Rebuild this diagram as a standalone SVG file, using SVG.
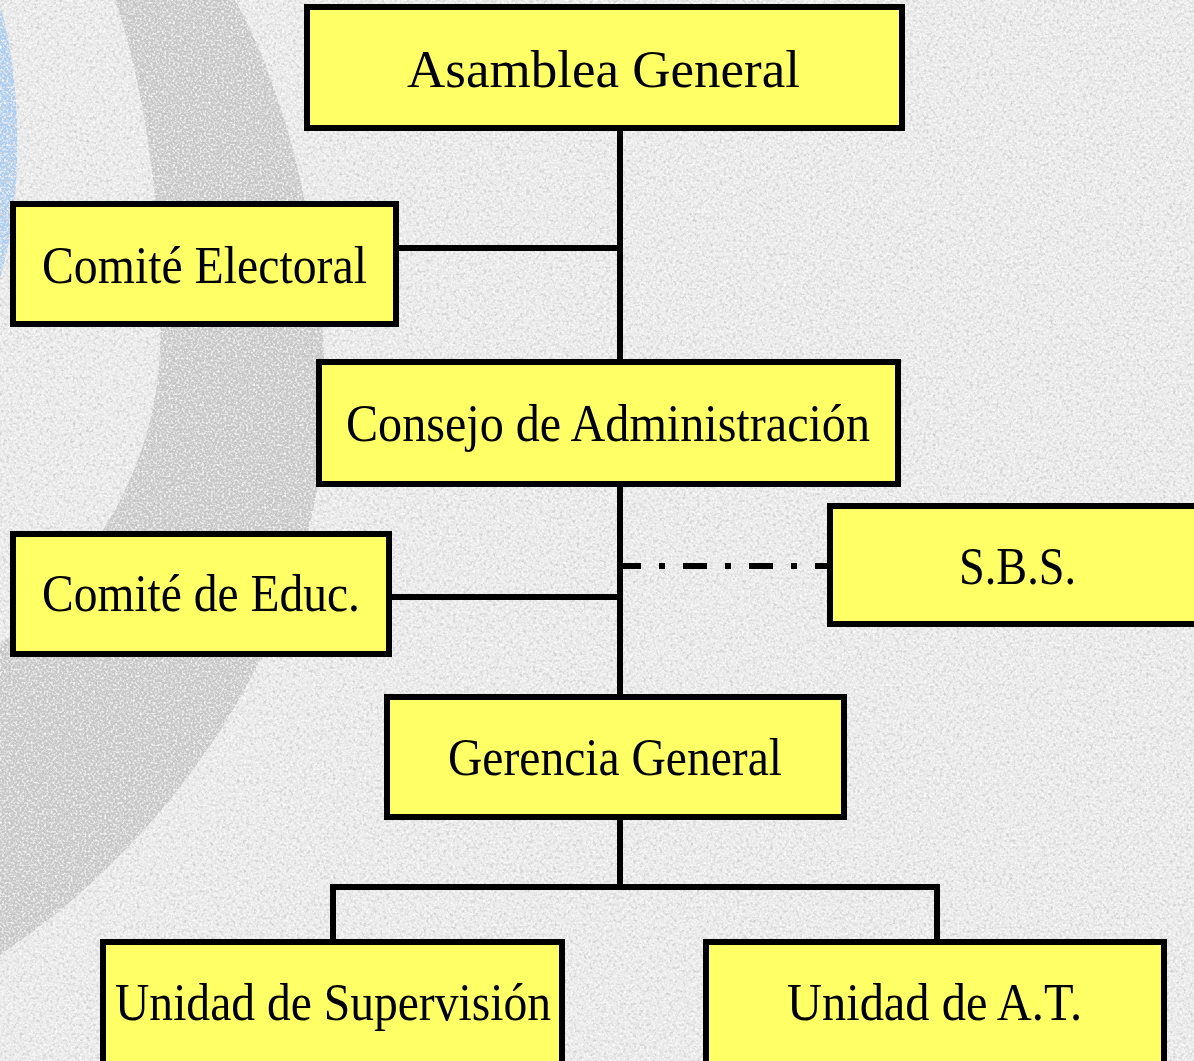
<svg xmlns="http://www.w3.org/2000/svg" width="1194" height="1061" viewBox="0 0 1194 1061">
<style>
.box{fill:#ffff66;stroke:#000;stroke-width:6}
.lbl{font-family:"Liberation Serif","Times New Roman",serif;font-size:53px;fill:#000}
.con{stroke:#000;stroke-width:6;fill:none}
</style>
<defs>
<filter id="grain" filterUnits="userSpaceOnUse" x="0" y="0" width="1194" height="1061">
<feTurbulence type="fractalNoise" baseFrequency="0.3" numOctaves="3" seed="7" result="n"/>
<feColorMatrix in="n" type="matrix" values="0 0 0 0 0.6  0 0 0 0 0.6  0 0 0 0 0.6  2.4 0 0 0 -1.05" result="dk"/>
<feTurbulence type="fractalNoise" baseFrequency="0.45" numOctaves="2" seed="21" result="n2"/>
<feColorMatrix in="n2" type="matrix" values="0 0 0 0 1  0 0 0 0 1  0 0 0 0 1  2.2 0 0 0 -0.95" result="lt"/>
<feComposite in="dk" in2="SourceGraphic" operator="in" result="dk2"/>
<feComposite in="lt" in2="SourceGraphic" operator="in" result="lt2"/>
<feMerge><feMergeNode in="SourceGraphic"/><feMergeNode in="dk2"/><feMergeNode in="lt2"/></feMerge>
</filter>
</defs>
<g id="background" filter="url(#grain)">
<rect x="0" y="0" width="1194" height="1061" fill="#ebebeb"/>
<path d="M115,0 L235,0 C290,100 325,250 325,400 C325,600 200,820 0,955 L0,645 C80,580 155,480 160,350 C165,250 150,100 115,0 Z" fill="#c6c6c6"/>
<path d="M0,5 C22,80 24,200 0,278 Z" fill="#a8cdf2"/>
</g>
<g id="connectors">
<line class="con" x1="620" y1="130" x2="620" y2="362"/>
<line class="con" x1="396" y1="248" x2="620" y2="248"/>
<line class="con" x1="620" y1="485" x2="620" y2="696"/>
<line class="con" x1="389" y1="597" x2="620" y2="597"/>
<line class="con" x1="617" y1="566" x2="829" y2="566" stroke-dasharray="24 18 6 18"/>
<line class="con" x1="620" y1="818" x2="620" y2="887"/>
<line class="con" x1="330" y1="887" x2="940" y2="887"/>
<line class="con" x1="333" y1="884" x2="333" y2="942"/>
<line class="con" x1="937" y1="884" x2="937" y2="942"/>
</g>
<g id="asamblea-general">
<rect class="box" x="307" y="7" width="595" height="121"/>
<text class="lbl" x="407" y="87" textLength="393" lengthAdjust="spacingAndGlyphs">Asamblea General</text>
</g>
<g id="comite-electoral">
<rect class="box" x="13" y="204" width="383" height="120"/>
<text class="lbl" x="42" y="283" textLength="325" lengthAdjust="spacingAndGlyphs">Comité Electoral</text>
</g>
<g id="consejo-administracion">
<rect class="box" x="319" y="362" width="579" height="122"/>
<text class="lbl" x="346" y="441" textLength="524" lengthAdjust="spacingAndGlyphs">Consejo de Administración</text>
</g>
<g id="sbs">
<rect class="box" x="830" y="506" width="380" height="118"/>
<text class="lbl" x="959" y="584" textLength="117" lengthAdjust="spacingAndGlyphs">S.B.S.</text>
</g>
<g id="comite-educ">
<rect class="box" x="13" y="534" width="376" height="120"/>
<text class="lbl" x="42" y="611" textLength="318" lengthAdjust="spacingAndGlyphs">Comité de Educ.</text>
</g>
<g id="gerencia-general">
<rect class="box" x="387" y="697" width="457" height="120"/>
<text class="lbl" x="448" y="775" textLength="334" lengthAdjust="spacingAndGlyphs">Gerencia General</text>
</g>
<g id="unidad-supervision">
<rect class="box" x="103" y="942" width="459" height="130"/>
<text class="lbl" x="115" y="1020" textLength="436" lengthAdjust="spacingAndGlyphs">Unidad de Supervisión</text>
</g>
<g id="unidad-at">
<rect class="box" x="706" y="942" width="458" height="130"/>
<text class="lbl" x="787" y="1020" textLength="295" lengthAdjust="spacingAndGlyphs">Unidad de A.T.</text>
</g>
</svg>
